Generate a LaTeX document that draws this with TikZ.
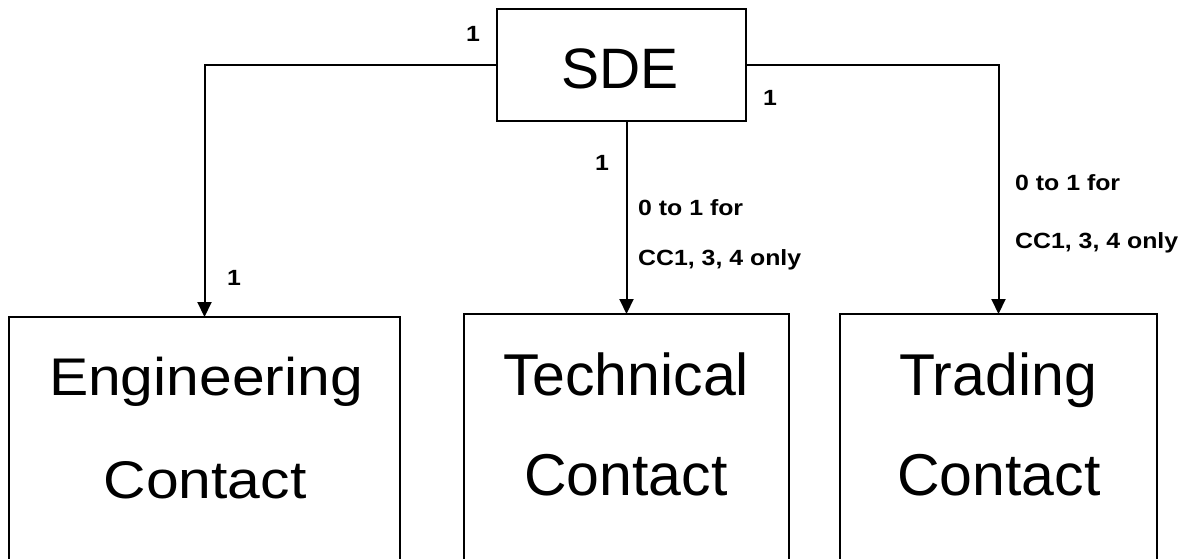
\documentclass[tikz,border=0pt]{standalone}
\usepackage{fontspec}
\setmainfont{Liberation Sans}
\newfontfamily\lblfont[FakeStretch=1.13]{Liberation Sans}
\newfontfamily\engfont[FakeStretch=1.11]{Liberation Sans}
\usetikzlibrary{arrows.meta}
\tikzset{
  box/.style={draw=black, line width=2pt, inner sep=0pt, outer sep=0pt, fill=white},
  conn/.style={draw=black, line width=2pt},
  arr/.style={conn, -{Triangle[width=14pt,length=15pt]}},
  lbl/.style={inner sep=0pt, font=\lblfont\bfseries\fontsize{22}{26}\selectfont},
  bigtxt/.style={inner sep=0pt, anchor=base, font=\fontsize{59}{66}\selectfont},
  engtxt/.style={inner sep=0pt, anchor=base, font=\engfont\fontsize{53}{60}\selectfont},
}
\begin{document}
\begin{tikzpicture}[x=1pt,y=-1pt]
\clip (0,0) rectangle (1189,558);
\fill[white] (0,0) rectangle (1189,558);
% boxes
\node[box, minimum width=249pt, minimum height=112pt, anchor=north west] (sde) at (497,9) {};
\node[inner sep=0pt, anchor=base, font=\fontsize{57}{64}\selectfont] (sdet) at (620,88) {SDE};
\node[box, minimum width=391pt, minimum height=300pt, anchor=north west] (eng) at (9,317) {};
\node[box, minimum width=325pt, minimum height=300pt, anchor=north west] (tech) at (464,314) {};
\node[box, minimum width=317pt, minimum height=300pt, anchor=north west] (trad) at (840,314) {};
% box texts
\node[engtxt] (engA) at (206,395) {Engineering};
\node[engtxt] (engB) at (205,498) {Contact};
\node[bigtxt] (techA) at (626,395) {Technical};
\node[bigtxt] (techB) at (626,495) {Contact};
\node[bigtxt] (tradA) at (998,395) {Trading};
\node[bigtxt] (tradB) at (999,495) {Contact};
% connectors
\draw[arr] (sde.west) -| (eng.north);
\draw[arr] (sde.south -| tech.north) -- (tech.north);
\draw[arr] (sde.east) -| (trad.north);
% labels
\node[lbl] (l1) at (473,34) {1};
\node[lbl] (l2) at (770,98) {1};
\node[lbl] (l3) at (602,163) {1};
\node[lbl] (l4) at (234,278) {1};
\node[lbl, anchor=base west] (m1) at (638,215) {0 to 1 for};
\node[lbl, anchor=base west] (m2) at (638,265) {CC1, 3, 4 only};
\node[lbl, anchor=base west] (r1) at (1015,190) {0 to 1 for};
\node[lbl, anchor=base west] (r2) at (1015,248) {CC1, 3, 4 only};
\end{tikzpicture}
\end{document}
